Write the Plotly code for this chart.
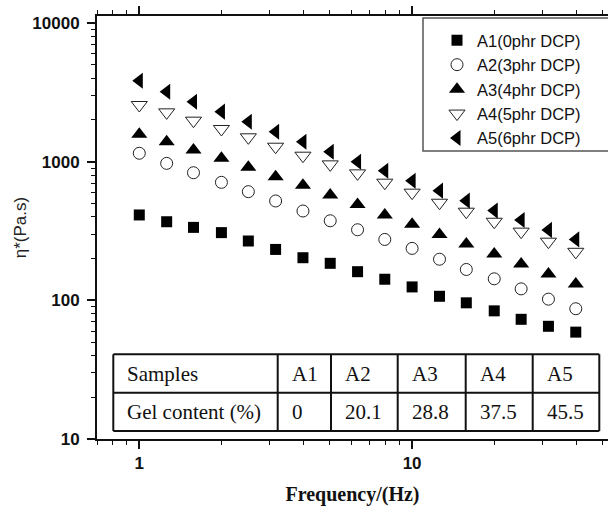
import plotly.graph_objects as go

# ---------------- data ----------------
freq = [1.0, 1.26, 1.58, 2.0, 2.51, 3.16, 3.98, 5.01, 6.31, 7.94,
        10.0, 12.6, 15.8, 20.0, 25.1, 31.6, 39.8]

a1 = [413, 369, 336, 308, 268, 233, 203, 185, 161, 142, 125, 107, 96, 84, 73, 65, 59]
a2 = [1151, 973, 833, 710, 608, 521, 441, 375, 323, 275, 237, 198, 167, 143, 121, 102, 87]
a3 = [1578, 1394, 1214, 1058, 912, 780, 676, 575, 492, 413, 354, 299, 255, 216, 183, 155, 131]
a4 = [2565, 2270, 1977, 1722, 1500, 1283, 1105, 957, 824, 706, 598, 506, 436, 369, 313, 265, 224]
a5 = [3837, 3198, 2709, 2295, 1943, 1645, 1393, 1180, 1000, 861, 729, 618, 524, 444, 380, 322, 275]

series_names = ["A1(0phr DCP)", "A2(3phr DCP)", "A3(4phr DCP)", "A4(5phr DCP)", "A5(6phr DCP)"]

y_tickvals = [10, 100, 1000, 10000]
y_ticktext = ["10", "100", "1000", "10000"]
x_tickvals = [1, 10]
x_ticktext = ["1", "10"]

table_header = ["Samples", "A1", "A2", "A3", "A4", "A5"]
table_row = ["Gel content (%)", "0", "20.1", "28.8", "37.5", "45.5"]

# ---------------- layout geometry (pixels) ----------------
W, H = 608, 506
L, R, T, B = 97, 0, 16, 67
PW, PH = W - L - R, H - T - B


def px(x):
    return (x - L) / PW


def py(y):
    return (H - B - y) / PH


fig = go.Figure()

styles = [
    dict(symbol="square", size=11, color="black"),
    dict(symbol="circle-open", size=12, color="#222", line=dict(width=1, color="#222")),
    dict(symbol="triangle-up", size=14, color="black"),
    dict(symbol="triangle-down-open", size=14, color="#222", line=dict(width=1, color="#222")),
    dict(symbol="triangle-left", size=14, color="black"),
]
for name, vals, st in zip(series_names, [a1, a2, a3, a4, a5], styles):
    fig.add_trace(go.Scatter(x=freq, y=vals, mode="markers", name=name,
                             marker=st, cliponaxis=False))

axis_common = dict(
    type="log", showgrid=False, zeroline=False,
    showline=True, linecolor="#111", linewidth=2,
    ticks="outside", ticklen=8, tickwidth=1.5, tickcolor="#111",
    tickfont=dict(family="Liberation Sans, Arial", size=17, color="#111", weight="bold"),
    minor=dict(ticks="outside", ticklen=4, tickwidth=1.2, tickcolor="#111", dtick="D1"),
)

fig.update_xaxes(
    **axis_common,
    range=[-0.155, 1.718],
    mirror="ticks",
    tickmode="array", tickvals=x_tickvals, ticktext=x_ticktext,
    title=dict(text="Frequency/(Hz)", standoff=16,
               font=dict(family="Liberation Serif, Times New Roman", size=20,
                         color="#111", weight="bold")),
)
fig.update_yaxes(
    **axis_common,
    range=[1, 4.051],
    mirror=False,
    tickmode="array", tickvals=y_tickvals, ticktext=y_ticktext,
    ticklabelstandoff=4,
    title=dict(text="η*(Pa.s)", standoff=1,
               font=dict(family="Liberation Sans, Arial", size=17, color="#222")),
)

# ---------------- table ----------------
col_x = [113.3, 277.7, 331, 397.7, 465.7, 532.7, 599.3]
row_y = [354.3, 392.7, 431]
shapes = []
for yy in row_y:
    shapes.append(dict(type="line", xref="paper", yref="paper",
                       x0=px(col_x[0]), x1=px(col_x[-1]), y0=py(yy), y1=py(yy),
                       line=dict(color="#111", width=2)))
for xx in col_x:
    shapes.append(dict(type="line", xref="paper", yref="paper",
                       x0=px(xx), x1=px(xx), y0=py(row_y[0]), y1=py(row_y[-1]),
                       line=dict(color="#111", width=2)))

# legend box
shapes.append(dict(type="rect", xref="paper", yref="paper",
                   x0=px(423), x1=px(620), y0=py(151), y1=py(18),
                   line=dict(color="#555", width=1.5), fillcolor="rgba(0,0,0,0)"))

annotations = []
tfont = dict(family="Liberation Serif, Times New Roman", size=21, color="#111")
for r, row in enumerate([table_header, table_row]):
    yc = (row_y[r] + row_y[r + 1]) / 2
    for c, txt in enumerate(row):
        annotations.append(dict(text=txt, xref="paper", yref="paper",
                                x=px(col_x[c] + 12), y=py(yc),
                                xanchor="left", yanchor="middle",
                                showarrow=False, font=tfont))

fig.update_layout(
    width=W, height=H,
    margin=dict(l=L, r=R, t=T, b=B),
    paper_bgcolor="white", plot_bgcolor="white",
    shapes=shapes, annotations=annotations,
    legend=dict(x=px(437), y=py(23), xanchor="left", yanchor="top",
                bgcolor="rgba(0,0,0,0)", borderwidth=0,
                font=dict(family="Liberation Sans, Arial", size=16.5, color="#111"),
                itemwidth=30, tracegroupgap=0),
    showlegend=True,
)

fig.write_html("out.html")
